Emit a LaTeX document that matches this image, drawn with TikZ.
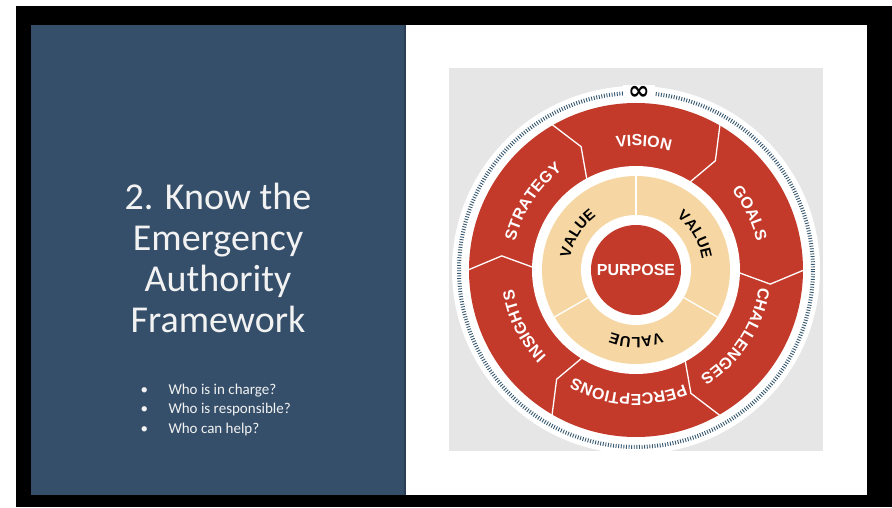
\documentclass[tikz,border=0pt]{standalone}
\usepackage{fontspec}
\setmainfont{Carlito}
\newfontfamily\wheelfont{Liberation Sans}
\newfontfamily\symfont{DejaVu Sans}
\usepackage{tikz}
\usetikzlibrary{decorations.text}

\definecolor{panelblue}{RGB}{53,79,106}
\definecolor{wheelred}{RGB}{196,58,42}
\definecolor{wheelbeige}{RGB}{246,215,163}
\definecolor{greybg}{RGB}{230,230,230}
\definecolor{tickblue}{RGB}{52,86,110}

\newcommand\ringlab{\wheelfont\bfseries\fontsize{16}{18}\selectfont\color{white}}
\newcommand\valuelab{\wheelfont\bfseries\fontsize{15}{17}\selectfont\color{black}}
% font, angle, radius, text -- reads clockwise, tops outward
\newcommand\arctext[4]{%
  \path[decorate,decoration={text along path,text align=center,text={|#1|#4}}]
    (#2+45:#3) arc[start angle=#2+45,end angle=#2-45,radius=#3];}

\begin{document}
\begin{tikzpicture}[x=1pt,y=1pt,seam/.style={white,line width=1.3pt}]
\useasboundingbox (0,0) rectangle (892,507);
\fill[white] (0,0) rectangle (892,507);
\fill[black] (16,0) rectangle (892,501);
\fill[white] (31,12) rectangle (867,482);
\fill[panelblue] (31,12) rectangle (406,482);
\draw[panelblue!80!black,line width=1.5pt] (405,12) -- (405,482);

\begin{scope}[every node/.style={text=white!95!black}]
    \node[align=center,anchor=base,font=\fontsize{38}{41}\selectfont] (title) at (218,175)
        {2. Know the\\Emergency\\Authority\\Framework};
    \node[align=left,anchor=base west,font=\fontsize{15}{19.3}\selectfont] (qs) at (137,74)
        {\makebox[28pt][l]{\textbullet}Who is in charge?\\
         \makebox[28pt][l]{\textbullet}Who is responsible?\\
         \makebox[28pt][l]{\textbullet}Who can help?};
\end{scope}

\fill[greybg] (449,56) rectangle (823,439);

\begin{scope}[shift={(636,237)}]
    \fill[white] (0,0) circle[radius=184];
    \draw[tickblue,line width=4pt,dash pattern=on 0.9pt off 1.7pt] (0,0) circle[radius=177];
    \node[fill=white,inner xsep=5pt,inner ysep=1pt,font=\symfont\bfseries\fontsize{26}{26}\selectfont] (infty) at (3,177) {∞};

    \fill[wheelred] (0,0) circle[radius=167];
    \fill[white] (0,0) circle[radius=104];
    \fill[wheelbeige] (0,0) circle[radius=94];
    \fill[white] (0,0) circle[radius=55];
    \node[circle,fill=wheelred,minimum size=90pt,inner sep=0pt,text=white,
          font=\wheelfont\bfseries\fontsize{16}{18}\selectfont] (purpose) at (0,0) {PURPOSE};

    \foreach \a in {120,60,0,-60,-120,180}
        \draw[seam] (\a:168) -- (\a-6:135) -- (\a-1.5:103);
    \foreach \a in {90,-30,-150}
        \draw[seam] (\a:55) -- (\a:94);

    \arctext{\ringlab}{86.5}{124}{VISION}
    \arctext{\ringlab}{26.5}{124}{GOALS}
    \arctext{\ringlab}{-33.5}{124}{CHALLENGES}
    \arctext{\ringlab}{-93.5}{124}{PERCEPTIONS}
    \arctext{\ringlab}{-153.5}{124}{INSIGHTS}
    \arctext{\ringlab}{146.5}{124}{STRATEGY}

    \arctext{\valuelab}{148}{67}{VALUE}
    \arctext{\valuelab}{31}{67}{VALUE}
    \arctext{\valuelab}{-90}{67}{VALUE}
\end{scope}
\end{tikzpicture}
\end{document}
